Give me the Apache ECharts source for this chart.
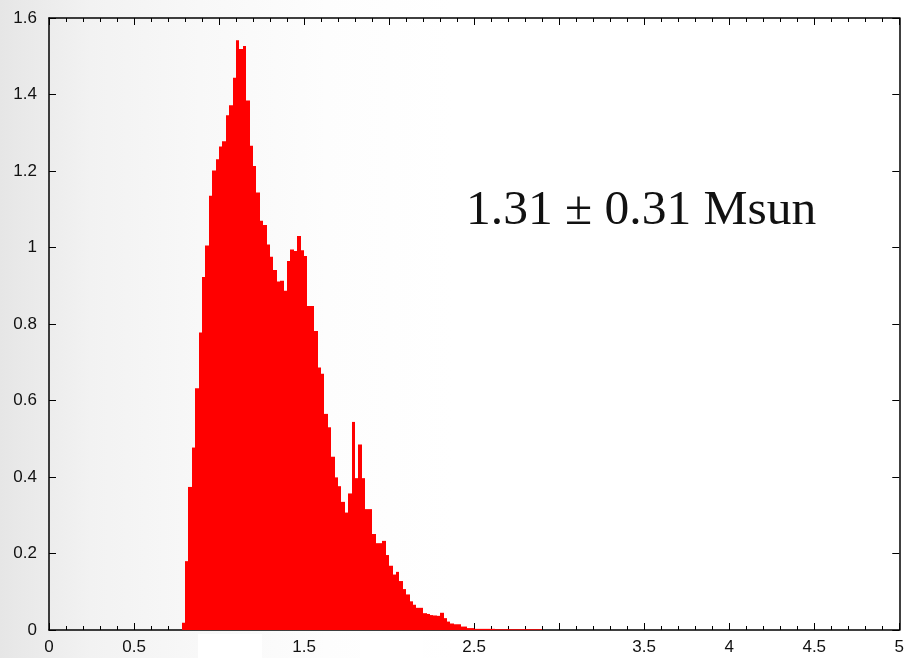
<!DOCTYPE html>
<html>
<head>
<meta charset="utf-8">
<script src="https://cdn.jsdelivr.net/npm/echarts@6/dist/echarts.min.js"></script>
<style>
  html, body { margin: 0; padding: 0; }
  body {
    width: 907px; height: 658px; overflow: hidden;
    background: linear-gradient(to right, #e6e6e6 0%, #f2f2f2 10%, #f8f8f8 22%, #fdfdfd 36%, #ffffff 50%);
  }
  #chart { width: 907px; height: 658px; }
</style>
</head>
<body>
<div id="chart"></div>
<script>
// Histogram of mass estimates (Msun), bins of width 0.02 starting at 0.78
const binStart = 0.78;
const binWidth = 0.02;
const density = [
  0.019, 0.180, 0.374, 0.477, 0.632, 0.778, 0.923, 1.005, 1.135, 1.201,
  1.231, 1.264, 1.278, 1.346, 1.372, 1.444, 1.542, 1.519, 1.527, 1.384,
  1.266, 1.213, 1.144, 1.070, 1.059, 1.008, 0.976, 0.941, 0.911, 0.913,
  0.887, 0.965, 0.995, 0.991, 1.030, 0.993, 0.978, 0.847, 0.847, 0.782,
  0.686, 0.670, 0.565, 0.530, 0.453, 0.399, 0.376, 0.335, 0.307, 0.357,
  0.544, 0.397, 0.485, 0.397, 0.316, 0.316, 0.251, 0.227, 0.227, 0.233,
  0.196, 0.168, 0.145, 0.152, 0.128, 0.107, 0.093, 0.075, 0.066, 0.058,
  0.058, 0.044, 0.042, 0.039, 0.038, 0.037, 0.045, 0.031, 0.022, 0.017,
  0.015, 0.015, 0.009, 0.009, 0.005, 0.005, 0.003, 0.003, 0.003, 0.003,
  0.003, 0.003, 0.002, 0.002, 0.002, 0.002, 0.002, 0.002, 0.002, 0.002,
  0.002, 0.002, 0.002, 0.002, 0.002, 0.002
];
// x tick labels left unprinted along the bottom axis
const hiddenXLabels = [1, 2, 3];
const annotation = '1.31 \u00b1 0.31 Msun';

const bins = density.map((h, i) => [binStart + i * binWidth, binStart + (i + 1) * binWidth, h]);

const labelFont = { color: '#111', fontSize: 17, fontFamily: 'Liberation Sans, Arial, sans-serif' };
const frameLine = { show: true, onZero: false, lineStyle: { color: '#000', width: 1.5 } };
const majorTick = { show: true, inside: true, length: 7, lineStyle: { color: '#000', width: 1 } };
const minorTick = { show: true, splitNumber: 5, length: 4, lineStyle: { color: '#000', width: 1 } };

const chart = echarts.init(document.getElementById('chart'), null, { renderer: 'canvas' });
chart.setOption({
  animation: false,
  grid: { left: 49, right: 4, top: 18, bottom: 28, containLabel: false },
  xAxis: [
    {
      type: 'value', min: 0, max: 5, interval: 0.5, position: 'bottom',
      axisLine: frameLine, axisTick: majorTick, minorTick: minorTick,
      splitLine: { show: false },
      axisLabel: Object.assign({
        margin: 9,
        formatter: v => hiddenXLabels.includes(v) ? '' : String(v)
      }, labelFont)
    },
    {
      type: 'value', min: 0, max: 5, interval: 0.5, position: 'top',
      axisLine: frameLine, axisTick: majorTick, minorTick: minorTick,
      splitLine: { show: false },
      axisLabel: { show: false }
    }
  ],
  yAxis: [
    {
      type: 'value', min: 0, max: 1.6, interval: 0.2, position: 'left',
      axisLine: frameLine, axisTick: majorTick,
      splitLine: { show: false },
      axisLabel: Object.assign({ margin: 12 }, labelFont)
    },
    {
      type: 'value', min: 0, max: 1.6, interval: 0.2, position: 'right',
      axisLine: frameLine, axisTick: majorTick,
      splitLine: { show: false },
      axisLabel: { show: false }
    }
  ],
  graphic: [
    { type: 'rect', z: -10, shape: { x: 198, y: 634, width: 64, height: 24 }, style: { fill: '#ffffff' } },
    { type: 'rect', z: -10, shape: { x: 360, y: 634, width: 63, height: 24 }, style: { fill: '#ffffff' } },
    {
      type: 'text', left: 466, top: 186, z: 100,
      style: {
        text: annotation,
        fill: '#111',
        font: '49.5px "Liberation Serif", "Times New Roman", serif'
      }
    }
  ],
  series: [
    {
      type: 'custom',
      xAxisIndex: 0, yAxisIndex: 0,
      data: bins,
      encode: { x: [0, 1], y: 2 },
      clip: true,
      renderItem: function (params, api) {
        const top = api.coord([api.value(0), api.value(2)]);
        const base = api.coord([api.value(1), 0]);
        // snap bin edges to whole pixels so neighbouring bars join without seams
        const x0 = Math.round(top[0]);
        const x1 = Math.round(base[0]);
        return {
          type: 'rect',
          shape: { x: x0, y: top[1], width: x1 - x0, height: base[1] - top[1] },
          style: { fill: '#ff0000', stroke: null }
        };
      }
    }
  ]
});
</script>
</body>
</html>
